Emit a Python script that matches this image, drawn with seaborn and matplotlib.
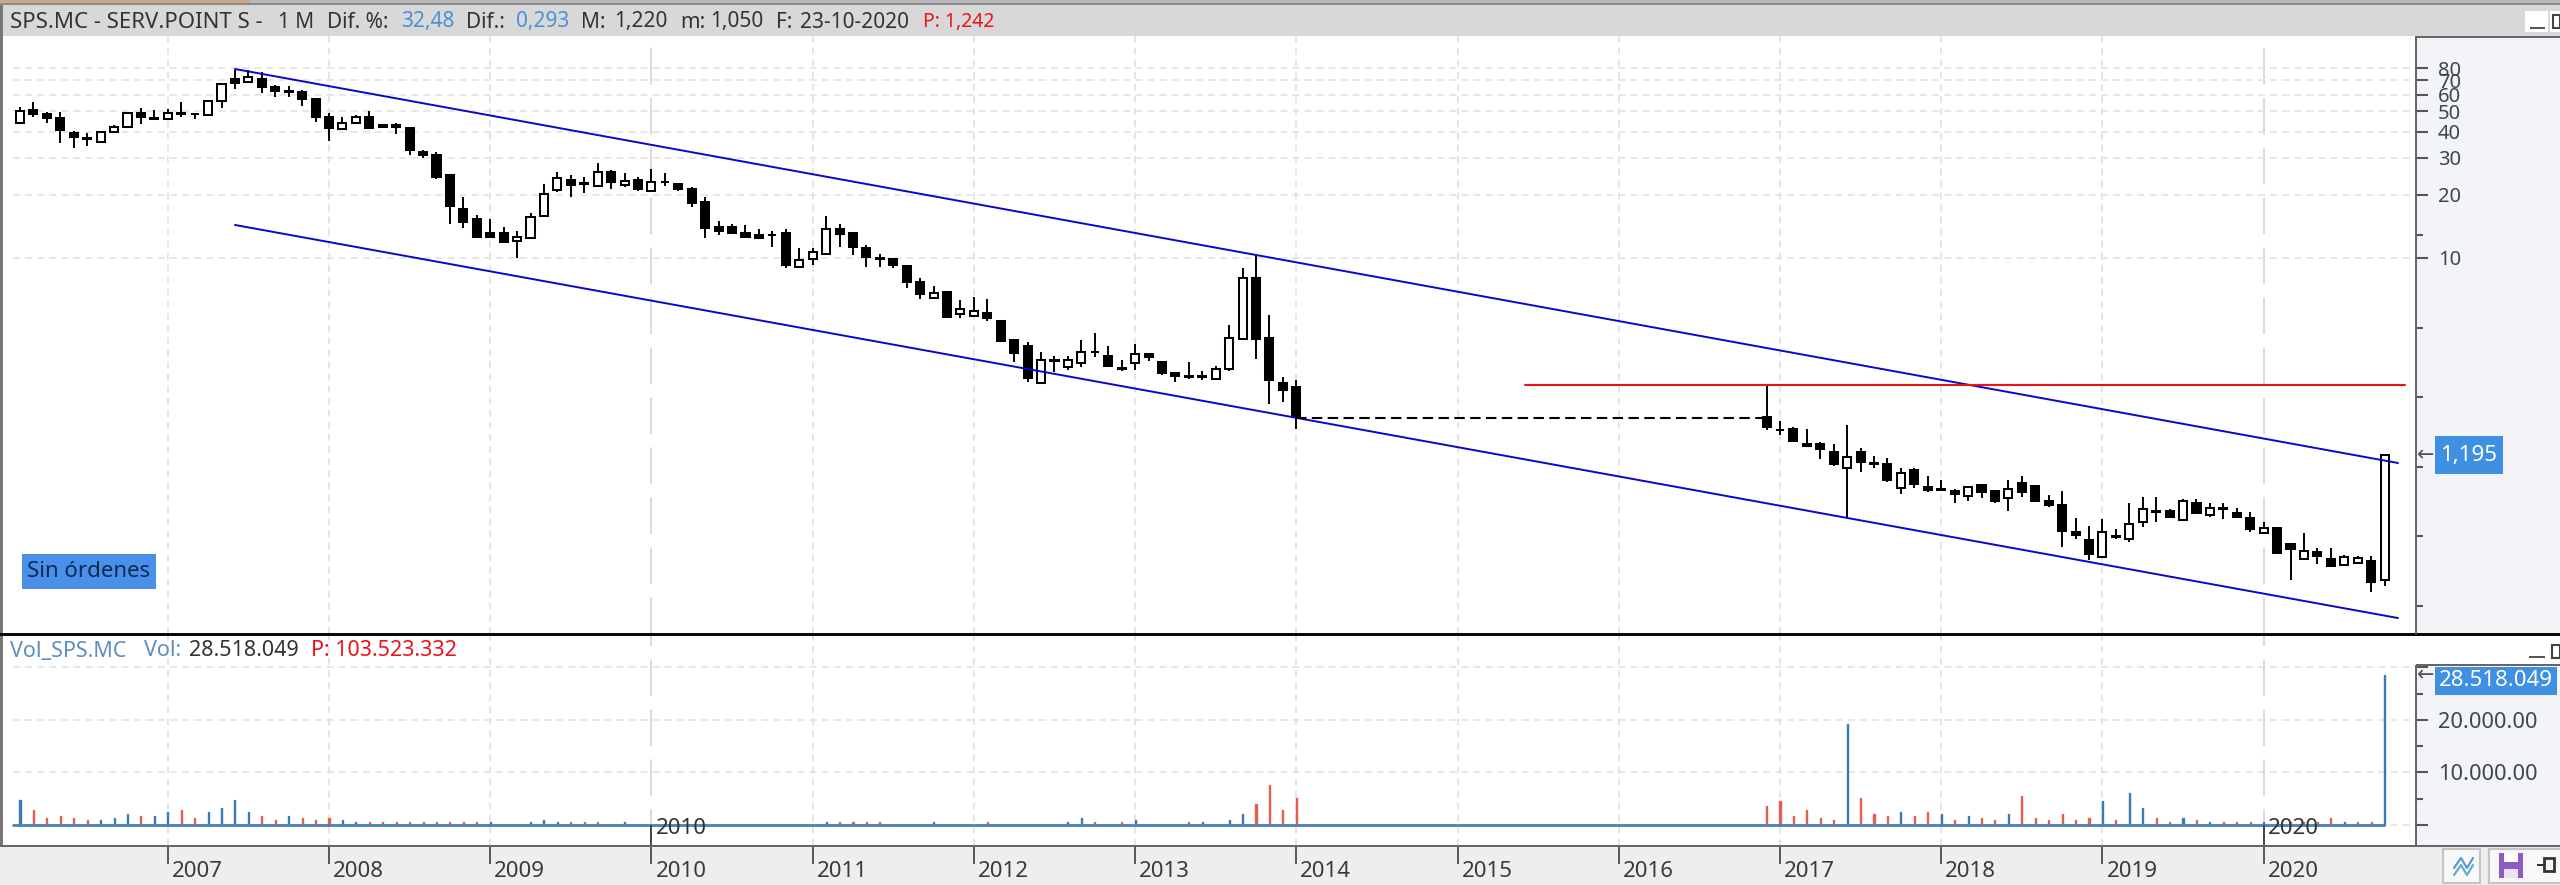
import matplotlib
matplotlib.use("Agg")
import matplotlib.pyplot as plt
from matplotlib.patches import Rectangle
from matplotlib.lines import Line2D
from matplotlib.transforms import ScaledTranslation
from matplotlib.ticker import NullFormatter
import numpy as np
import pandas as pd
import seaborn as sns

# ---------- data ----------
years = ["2007","2008","2009","2010","2011","2012","2013","2014","2015","2016","2017","2018","2019","2020"]
year_months = [11,23,35,47,59,71,83,95,107,119,131,143,155,167]

months_a = list(range(96))
months_b = list(range(130,177))

open_a = [43.8,50.6,48.3,46.2,39.5,37.2,35.8,40,41.9,49.1,
46.0,45.9,49,48.6,48,56.1,71,68.7,71,65,
62.1,61.9,56.9,47.1,41,43.8,47.1,43.2,43.2,41.4,
32.1,30.9,24.8,17.2,15.4,13.1,13.1,12,12.4,15.8,
21,23.5,22.7,21.9,25.8,22.3,23.5,20.8,23.1,22.5,
21.3,18.4,14.1,14.1,13.2,12.9,12.9,13.2,9.08,9.94,
10.4,13.7,13.1,11.2,10,9.84,9.14,7.65,6.48,6.85,
5.4,5.3,5.44,5.01,4.09,3.83,2.53,3.22,3.01,3.17,
3.57,3.41,2.99,3.17,3.48,3.2,2.84,2.73,2.71,2.65,
2.96,4.13,8.0,4.18,2.55,2.44]
high_a = [52.5,55.5,49.3,49.3,40.4,39.2,40.4,43,49.3,51.5,
50.6,51,55.5,48.8,56.5,67.9,78.5,78.5,77.1,66.7,
65.9,63.1,57.5,49.1,47.1,48,50.3,43.2,44.1,41.4,
32.7,32.1,24.8,19.6,16,15.4,14.1,13.5,16.4,22.5,
25.8,24.9,24.4,28.2,26.2,25.3,24.2,26.4,25.3,22.5,
21.7,19.6,15,14.5,14.3,13.7,13.5,13.7,11.2,11.1,
15.8,14.5,13.2,11.5,10.5,10.05,9.14,8.05,7.34,6.85,
6.3,6.53,6.4,5.01,4.09,3.98,3.57,3.41,3.42,4.09,
4.37,3.82,3.26,3.91,3.54,3.24,2.84,3.19,2.9,3.05,
4.78,8.98,10.3,5.34,2.72,2.62]
low_a = [43.8,46.8,43.8,35.4,33.3,34.2,35.8,40,41.9,43.5,
45.9,45.9,46.8,45.7,48,51.5,63.5,68.7,60.8,58.6,
58.6,52.9,44.6,36.2,41,43.8,41.8,42,38.9,31,
29.8,23.7,14.5,13.9,12.4,12.6,11.9,9.95,12.4,15.6,
20.5,19.5,20.3,21.9,21.3,21.7,20.9,20.8,21.9,20.8,
17.4,12.4,12.9,13,12.4,12.4,11.3,9,9.08,9.25,
10.4,11.3,10.3,9.08,9.08,9,7.2,6.4,6.48,5.15,
5.15,5.3,5.01,4.03,3.2,2.57,2.53,2.87,2.92,3.01,
3.38,3.01,2.89,2.92,3.24,2.77,2.57,2.64,2.62,2.65,
2.89,4.13,3.29,2.02,2.06,1.53]
close_a = [50.2,48.5,46.6,40.7,37.5,37,40,41.9,49.1,46.8,
46.4,49.1,48.6,48.3,56.1,67.4,68.4,72.5,65,62.4,
61.7,57.1,46.8,41.4,44.1,47.1,41.8,42,41.9,32.5,
31,24.2,17.7,14.9,12.6,12.6,11.9,12.6,15.7,20.1,
24,22.3,22.4,25.8,22.9,23.3,21.3,23,22.9,21.3,
18.2,13.9,13.5,13.2,12.6,12.4,12.8,9.25,9.77,10.7,
13.7,13,11.3,10.1,9.9,9.25,7.7,6.72,6.83,5.24,
5.7,5.58,5.15,4.03,3.51,2.69,3.26,3.25,3.26,3.56,
3.55,3.06,2.97,3.48,3.36,2.82,2.75,2.71,2.73,2.97,
4.17,8.0,4.13,2.62,2.35,1.76]

open_b = [1.74,1.52,1.53,1.30,1.30,1.19,1.0,1.19,1.06,1.04,.806,.978,.812,.789,.78,.735,.83,.777,.722,.848,
.818,.694,.667,.497,.454,.376,.473,.458,.552,.622,.622,.564,.679,.6,.645,.609,.58,.492,.52,.433,
.368,.396,.37,.345,.352,.362,.293]
high_b = [2.47,1.67,1.56,1.53,1.33,1.30,1.60,1.25,1.14,1.11,.995,.995,.916,.877,.792,.82,.836,.786,.877,.916,
.83,.744,.78,.58,.53,.57,.512,.679,.73,.73,.636,.714,.714,.679,.679,.647,.62,.556,.52,.433,
.489,.414,.414,.385,.379,.382,1.16]
low_b = [1.51,1.44,1.34,1.27,1.10,1.02,.576,.96,.995,.854,.75,.80,.766,.78,.684,.699,.717,.679,.627,.73,
.699,.655,.42,.458,.365,.376,.458,.446,.526,.556,.576,.564,.613,.587,.57,.587,.498,.492,.393,.293,
.368,.35,.343,.345,.352,.256,.273]
close_b = [1.57,1.51,1.34,1.27,1.23,1.04,1.13,1.07,1.05,.877,.95,.839,.786,.794,.752,.809,.766,.696,.794,.769,
.699,.67,.501,.48,.39,.495,.469,.542,.636,.618,.587,.694,.613,.647,.64,.587,.512,.516,.393,.41,
.404,.382,.343,.378,.371,.288,1.15]

volume_a = [4750,2850,1270,1710,1270,950,950,1270,2030,1710,1710,2470,2850,1270,2470,3230,4750,2470,1710,950,
1710,1270,950,1270,950,570,570,570,570,570,570,570,570,570,570,570,0,0,570,950,
570,570,570,570,0,570,0,0,0,0,0,0,0,0,0,0,0,0,0,0,
570,570,570,570,570,0,0,0,570,0,0,0,570,0,0,0,0,0,570,1270,
570,0,570,950,0,0,0,570,570,0,950,2030,4060,7600,2850,5200]
volume_b = [3610,4560,1710,2850,1270,950,19200,5200,2030,1710,2470,1710,2470,2030,950,1710,1270,950,2030,5580,
1270,950,2030,950,1270,4560,950,6020,3230,1270,570,1270,950,570,570,570,570,570,570,570,
570,570,1270,570,570,570,28518]
blue_volume_months = [0,6,7,8,10,11,14,15,16,17,20,24,25,35,38,39,40,45,60,68,78,79,83,88,90,91,
136,140,143,145,148,155,157,158,161,163,167,173,176]

channel_x = [16, 177]
channel_upper = [79.4, 1.056]
channel_lower = [14.36, 0.193]
resistance_x = [112, 177.5]
resistance_y = [2.48, 2.48]
gap_x = [95, 130]
gap_y = [1.73, 1.73]

price_major = [80,70,60,50,40,30,20,10]
price_minor = [12.9,4.64,2.18,1.01,0.474,0.22]
volume_major = [0,10000,20000,30000]
volume_minor = [5000,15000,25000]
volume_labels = ["","10.000.00","20.000.00",""]

months = months_a + months_b
opens = np.array(open_a + open_b)
highs = np.array(high_a + high_b)
lows = np.array(low_a + low_b)
closes = np.array(close_a + close_b)
volumes = volume_a + volume_b

# ---------- figure ----------
sns.set_style("white")
plt.rcParams["font.family"] = ["Noto Sans", "DejaVu Sans"]
W, H = 2560, 885
fig = plt.figure(figsize=(W/100, H/100), dpi=100, facecolor="white")
PT = 0.72
GRID_DASH = (0, (4.6, 3.3))
YEAR_DASH = (0, (24, 8.7))

def axes_px(l, t, r, b):
    return fig.add_axes([l/W, 1-b/H, (r-l)/W, (b-t)/H])

def box(x0, y0, x1, y1, fc, ec="none", lw=0, z=4):
    fig.add_artist(Rectangle((x0/W, 1-y1/H), (x1-x0)/W, (y1-y0)/H, transform=fig.transFigure,
                             facecolor=fc, edgecolor=ec, linewidth=lw, zorder=z))

def txt(x, y, s, color="#333333", size=14.5, ha="left", z=6, **kw):
    fig.text(x/W, 1-y/H, s, color=color, fontsize=size, ha=ha, va="center", zorder=z, **kw)

# window chrome behind the axes
box(0, 0, W, 36, "#d8d8d8", z=-1)
box(0, 0, 250, 3, "#c9a98c", z=-1)
box(250, 0, W, 3, "#b8b8b8", z=-1)
box(0, 3, W, 5, "#8a8a8a", z=-1)
box(2416, 36, W, 634, "#f2f4f8", z=-1)
box(2416, 665, W, 846, "#f2f4f8", z=-1)
box(0, 846, W, H, "#eeeeee", z=-1)

ax = axes_px(3, 36, 2416, 634)
ax_vol = axes_px(3, 636, 2416, 846)
xlim = (-1.265, 178.34)

# ---------- price panel ----------
ax.set_yscale("log")
ax.set_xlim(xlim)
ax.set_ylim(0.162, 114)
for k, y in zip(year_months, years):
    solid = y in ("2010", "2020")
    ax.axvline(k, color="#cfcfcf" if solid else "#dedede", lw=1.1,
               ls=YEAR_DASH if solid else GRID_DASH, zorder=0.5)
ax.hlines(price_major, -0.5, xlim[1], color="#e0e0e0", lw=1.1, ls=GRID_DASH, zorder=0.5)

ax.vlines(months, lows, highs, color="black", lw=1.4, zorder=2)
bottoms = np.minimum(opens, closes)
heights = np.abs(closes - opens)
faces = ["white" if c >= o else "black" for o, c in zip(opens, closes)]
ax.bar(months, heights, bottom=bottoms, width=0.6, color=faces, edgecolor="black", linewidth=1.45, zorder=3)

sns.lineplot(x=channel_x, y=channel_upper, ax=ax, color="#0808c8", lw=1.4, estimator=None, errorbar=None, zorder=4)
sns.lineplot(x=channel_x, y=channel_lower, ax=ax, color="#0808c8", lw=1.4, estimator=None, errorbar=None, zorder=4)
sns.lineplot(x=resistance_x, y=resistance_y, ax=ax, color="#e8141c", lw=1.5, estimator=None, errorbar=None, zorder=4)
sns.lineplot(x=gap_x, y=gap_y, ax=ax, color="black", lw=1.5, ls=(0, (5, 2.6)), estimator=None, errorbar=None, zorder=4)

ax.set_yticks(price_major)
ax.set_yticklabels([str(v) for v in price_major])
ax.set_yticks(price_minor, minor=True)
ax.yaxis.set_minor_formatter(NullFormatter())
ax.tick_params(axis="y", which="both", left=False, right=True, labelleft=False, labelright=True,
               color="#555555", labelcolor="#3f4650")
ax.tick_params(axis="y", which="major", length=12*PT, width=1.5, pad=10*PT, labelsize=14.5)
ax.tick_params(axis="y", which="minor", length=7*PT, width=1.5)
ax.set_xticks([])
ax.set_xlabel("")
ax.set_ylabel("")
sns.despine(ax=ax, left=True, right=True, top=True, bottom=True)

# ---------- volume panel ----------
vol_df = pd.DataFrame({"month": months, "volume": volumes})
vol_df["side"] = ["up" if m in blue_volume_months else "down" for m in months]
sns.barplot(data=vol_df, x="month", y="volume", hue="side", hue_order=["up", "down"],
            palette={"up": "#3c7ab4", "down": "#e2604f"}, native_scale=True, dodge=False,
            width=0.08, errorbar=None, legend=False, ax=ax_vol, zorder=3, saturation=1)
for p in ax_vol.patches:
    p.set_edgecolor(p.get_facecolor())
    p.set_linewidth(1.0)
ax_vol.set_xlim(xlim)
ax_vol.set_ylim(-3992, 35932)
ax_vol.hlines(0, months[0]-0.6, months[-1], color="#4a80b4", lw=2.0, zorder=4)
ax_vol.hlines(volume_major, -0.5, xlim[1], color="#e0e0e0", lw=1.1, ls=GRID_DASH, zorder=0.5)
for k, y in zip(year_months, years):
    solid = y in ("2010", "2020")
    ax_vol.axvline(k, color="#cfcfcf" if solid else "#dedede", lw=1.1,
                   ls=YEAR_DASH if solid else GRID_DASH, zorder=0.5)
    if solid:
        ax_vol.vlines(k, -3992, 0, color="#444444", lw=1.4, zorder=5)
        ax_vol.annotate(y, xy=(k, -570), xytext=(4, 0), textcoords="offset pixels", va="center", ha="left",
                        fontsize=16, color="#333333", zorder=6)

ax_vol.set_yticks(volume_major)
ax_vol.set_yticklabels(volume_labels)
ax_vol.set_yticks(volume_minor, minor=True)
ax_vol.yaxis.set_minor_formatter(NullFormatter())
ax_vol.tick_params(axis="y", which="both", left=False, right=True, labelleft=False, labelright=True,
                   color="#555555", labelcolor="#3f4650")
ax_vol.tick_params(axis="y", which="major", length=12*PT, width=1.5, pad=10*PT, labelsize=15.7)
ax_vol.tick_params(axis="y", which="minor", length=7*PT, width=1.5)
ax_vol.set_xticks(year_months)
ax_vol.set_xticklabels(years, ha="left")
ax_vol.tick_params(axis="x", bottom=True, length=18*PT, width=1.4, color="#555555", pad=-3*PT,
                   labelsize=16, labelcolor="#3a3a3a")
shift = ScaledTranslation(4/100, 0, fig.dpi_scale_trans)
for lab in ax_vol.get_xticklabels():
    lab.set_transform(lab.get_transform() + shift)
ax_vol.set_xlabel("")
ax_vol.set_ylabel("")
sns.despine(ax=ax_vol, left=True, right=True, top=True, bottom=True)

# ---------- frame lines ----------
box(0, 5, 3, 846, "#777777", z=5)
box(0, 632.5, W, 636, "#0a0a0a", z=5)
box(0, 845, W, 847, "#666666", z=5)
box(2415, 36, 2417, 634, "#666666", z=5)
box(2415, 665, 2417, 846, "#666666", z=5)
box(2416, 36, W, 38, "#666666", z=5)
box(2416, 664, W, 666, "#666666", z=5)

# ---------- header texts ----------
ty = 22
for x, s, c, sz in [(10, "SPS.MC - SERV.POINT S -", "#333333", 16), (278, "1 M", "#333333", 15), (327, "Dif. %:", "#333333", 15),
                (401, "32,48", "#4a90d9", 15), (466, "Dif.:", "#333333", 15), (516, "0,293", "#4a90d9", 15),
                (581, "M:", "#333333", 15), (614, "1,220", "#333333", 15), (680, "m:", "#333333", 15), (710, "1,050", "#333333", 15),
                (776, "F:", "#333333", 15), (800, "23-10-2020", "#333333", 15), (923, "P: 1,242", "#e8141c", 14)]:
    txt(x, ty, s, c, sz)
ty2 = 651
for x, s, c, sz in [(10, "Vol_SPS.MC", "#5b8fc0", 15.5), (144, "Vol:", "#5b8fc0", 15.5), (189, "28.518.049", "#333333", 15.5),
                (311, "P: 103.523.332", "#e8141c", 15.5)]:
    txt(x, ty2, s, c, sz)

# ---------- labels and boxes ----------
box(22, 554, 156, 589, "#4a90e8")
txt(89, 571.5, "Sin órdenes", "#0b2a55", 16, ha="center")
box(2435, 436, 2503, 474, "#3f8fe3")
txt(2469, 455, "1,195", "white", 16, ha="center")
box(2435, 667, 2557, 695, "#3f8fe3")
txt(2496, 681, "28.518.049", "white", 16, ha="center")
txt(2417, 455, "←", "#555555", 15, family="DejaVu Sans")
txt(2417, 675, "←", "#555555", 15, family="DejaVu Sans")

# ---------- window buttons ----------
box(2525, 11, 2548, 32, "white")
box(2530, 27, 2545, 29, "#555555", z=5)
box(2550, 11, 2560, 32, "white")
box(2553, 15, 2560, 28, "white", ec="#444444", lw=1.5, z=5)
box(2529, 656, 2545, 658, "#555555", z=5)
box(2552, 645, 2560, 658, "white", ec="#444444", lw=1.5, z=5)
box(2443, 849, 2480, 883, "#f8f8f8", ec="#c4c4c4", lw=1.5)
box(2489, 849, 2562, 883, "#f8f8f8", ec="#c4c4c4", lw=1.5)
for dy, col in [(0, "#5b9bd5"), (7, "#5fb0c8")]:
    fig.add_artist(Line2D(np.array([2454, 2461, 2467, 2473])/W, 1-(np.array([868, 858, 868, 858])+dy)/H,
                          transform=fig.transFigure, color=col, lw=1.6, zorder=6))
box(2499, 853, 2523, 878, "#8a5cc4", z=5)
box(2504, 853, 2518, 862, "white", z=6)
box(2504, 869, 2518, 878, "#e9e2f5", z=6)
box(2544, 858, 2554, 871, "#f8f8f8", ec="#333333", lw=2, z=6)
box(2537, 864, 2544, 866, "#333333", z=6)

fig.savefig("out.png", dpi=100)
assert all(len(a) == 96 for a in (open_a, high_a, low_a, close_a, volume_a))
assert all(len(a) == 47 for a in (open_b, high_b, low_b, close_b, volume_b))
